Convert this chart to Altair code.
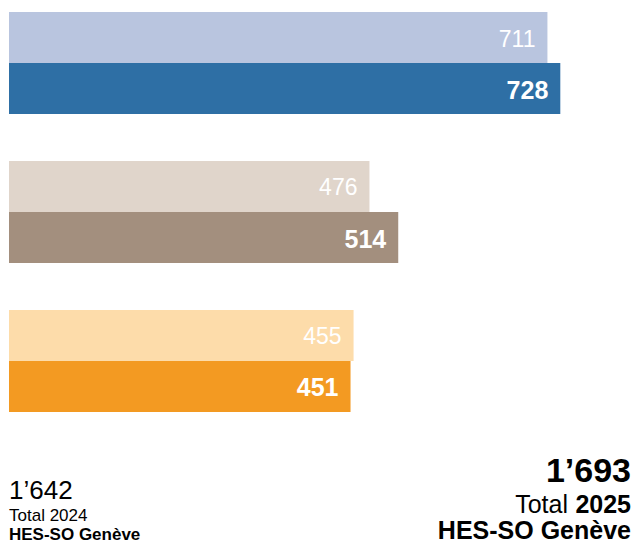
import altair as alt
import pandas as pd

groups = ["G1", "G1", "G2", "G2", "G3", "G3"]
years = ["2024", "2025", "2024", "2025", "2024", "2025"]
values = [711, 728, 476, 514, 455, 451]
keys = ["G1-2024", "G1-2025", "G2-2024", "G2-2025", "G3-2024", "G3-2025"]
colors = ["#B9C5DF", "#2E6FA5", "#E0D5CB", "#A38F7E", "#FDDCAA", "#F39A22"]

total_2024 = "1’642"
total_2025 = "1’693"

df = pd.DataFrame({"group": groups, "year": years, "value": values, "key": keys})

FONT = "Liberation Sans"

x = alt.X("value:Q", scale=alt.Scale(domain=[0, 824], range=[1, 625]), axis=None)
y = alt.Y("group:N", scale=alt.Scale(range=[4, 404], paddingInner=0.315, paddingOuter=0), axis=None)
yo = alt.YOffset("year:N", scale=alt.Scale(paddingInner=0, paddingOuter=0))

base = alt.Chart(df)

bars = base.mark_bar(cornerRadius=0).encode(
    x=x, y=y, yOffset=yo,
    color=alt.Color("key:N", scale=alt.Scale(domain=keys, range=colors), legend=None),
)

lab24 = base.transform_filter(alt.datum.year == "2024").mark_text(
    align="right", baseline="middle", dx=-12, dy=2, font=FONT, fontSize=23, color="white"
).encode(x=x, y=y, yOffset=yo, text="value:Q")

lab25 = base.transform_filter(alt.datum.year == "2025").mark_text(
    align="right", baseline="middle", dx=-12, dy=2, font=FONT, fontSize=25, fontWeight="bold", color="white"
).encode(x=x, y=y, yOffset=yo, text="value:Q")

ann = pd.DataFrame({"t": [0]})
a = alt.Chart(ann)

def txt(text, xp, yp, size, weight="normal", align="left"):
    return a.mark_text(
        text=text, align=align, baseline="alphabetic", font=FONT, fontSize=size,
        fontWeight=weight, color="black"
    ).encode(x=alt.value(xp), y=alt.value(yp))

left1 = txt(total_2024, 1, 491, 26)
left2 = txt("Total 2024", 1, 513, 17)
left3 = txt("HES-SO Genève", 1, 532, 17, "bold")

right1 = txt(total_2025, 623, 474, 34, "bold", "right")
right2b = txt("2025", 623, 505, 25, "bold", "right")
right2a = txt("Total", 560, 505, 25, "normal", "right")
right3 = txt("HES-SO Genève", 623, 531, 25, "bold", "right")

chart = alt.layer(bars, lab24, lab25, left1, left2, left3, right1, right2a, right2b, right3).properties(
    width=624, height=537, padding=0, autosize=alt.AutoSizeParams(type="none")
).configure_view(stroke=None)

chart.save("out.html", embed_options={"renderer": "svg", "actions": False})
